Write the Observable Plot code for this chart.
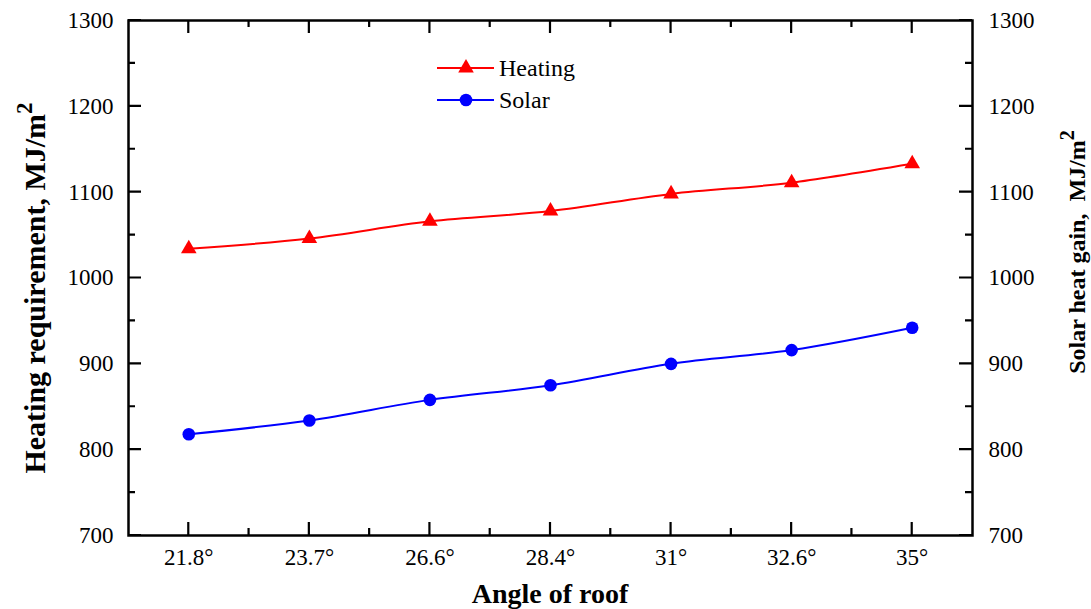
<!DOCTYPE html>
<html><head><meta charset="utf-8">
<script src="https://cdn.jsdelivr.net/npm/d3@7"></script>
<script src="https://cdn.jsdelivr.net/npm/@observablehq/plot@0.6"></script>
<style>
body{margin:0;background:#fff}
#chart svg{font-family:"Liberation Serif","Times New Roman",serif}
</style>
</head><body><div id="chart"></div>
<script>
const categories = ["21.8°","23.7°","26.6°","28.4°","31°","32.6°","35°"];
const heating = [1034,1046,1066,1078,1098,1111,1133];
const solar = [818,834,858,875,900,916,942];
const yTicks = [700,800,900,1000,1100,1200,1300];
const yMinorTicks = [750,850,950,1050,1150,1250];
const seriesNames = ["Heating","Solar"];
const seriesColors = ["#ff0000","#0000ff"];

const heatRows = categories.map((c,i)=>({i, cat:c, value:heating[i]}));
const solarRows = categories.map((c,i)=>({i, cat:c, value:solar[i]}));
const xMajor = categories.map((c,i)=>i);
const xMinor = categories.slice(1).map((c,i)=>i+0.5);

const FONT = '"Liberation Serif","Times New Roman",serif';
const W = 1091, H = 609, ML = 128, MR = 119, MT = 20, MB = 74;
const MAJ = 13, MIN = 7;

const plot = Plot.plot({
  width:W, height:H,
  marginLeft:ML, marginRight:MR, marginTop:MT, marginBottom:MB,
  style:{fontFamily:FONT, fontSize:"23px", color:"#000", background:"#fff", overflow:"visible"},
  x:{type:"linear", domain:[-0.5, categories.length-0.5], label:null},
  y:{domain:[700,1300], label:null},
  marks:[
    Plot.axisX({ticks:xMajor, tickSize:0, tickPadding:13, tickFormat:i=>categories[i], label:null, fontSize:23}),
    Plot.axisY({ticks:yTicks, tickSize:0, tickPadding:15, tickFormat:d=>String(d), label:null, fontSize:23}),
    Plot.axisY({anchor:"right", ticks:yTicks, tickSize:0, tickPadding:16, tickFormat:d=>String(d), label:null, fontSize:23}),
    Plot.frame({stroke:"#000", strokeWidth:2.5}),
    Plot.line(heatRows, {x:"i", y:"value", stroke:seriesColors[0], strokeWidth:2, curve:"catmull-rom"}),
    Plot.line(solarRows, {x:"i", y:"value", stroke:seriesColors[1], strokeWidth:2, curve:"catmull-rom"}),
    Plot.dot(heatRows, {x:"i", y:"value", symbol:"triangle", fill:seriesColors[0], r:5.8}),
    Plot.dot(solarRows, {x:"i", y:"value", symbol:"circle", fill:seriesColors[1], r:6.3})
  ]
});
document.getElementById("chart").appendChild(plot);

const svg = d3.select(plot);
const xs = plot.scale("x"), ys = plot.scale("y");
const frameL = xs.apply(-0.5), frameR = xs.apply(categories.length-0.5);
const frameB = ys.apply(700), frameT = ys.apply(1300);

// inward ticks on all four sides, positioned through Plot's scales
let tickPath = "";
function xTk(vals, len){
  vals.forEach(v=>{
    const x = xs.apply(v);
    tickPath += `M${x},${frameB}V${frameB-len}M${x},${frameT}V${frameT+len}`;
  });
}
function yTk(vals, len){
  vals.forEach(v=>{
    const y = ys.apply(v);
    tickPath += `M${frameL},${y}H${frameL+len}M${frameR},${y}H${frameR-len}`;
  });
}
xTk(xMajor, MAJ); xTk(xMinor, MIN);
yTk(yTicks, MAJ); yTk(yMinorTicks, MIN);
svg.append("path").attr("d",tickPath).attr("fill","none")
  .attr("stroke","#000").attr("stroke-width",2.2).style("stroke","#000");

// axis titles
svg.append("text").attr("x",(frameL+frameR)/2).attr("y",603).attr("text-anchor","middle")
  .attr("font-family",FONT).attr("font-weight","bold").attr("font-size",28).attr("fill","#000")
  .text("Angle of roof");

function rotTitle(x, y, main, size, supSize, shift){
  const t = svg.append("text").attr("transform",`translate(${x},${y}) rotate(-90)`)
    .attr("text-anchor","middle").attr("font-family",FONT).attr("font-weight","bold")
    .attr("font-size",size).attr("fill","#000");
  t.append("tspan").text(main);
  t.append("tspan").attr("font-size",supSize).attr("dy",-shift).text("2");
}
rotTitle(45, 288, "Heating requirement, MJ/m", 30, 23, 13);
rotTitle(1085, 252, "Solar heat gain,\u00a0 MJ/m", 24, 20, 11);

// legend
const lg = svg.append("g");
const legendRows = [{y:68, sym:d3.symbolTriangle, size:5.8*5.8*Math.PI},{y:100, sym:d3.symbolCircle, size:6.3*6.3*Math.PI}];
legendRows.forEach((r,k)=>{
  lg.append("line").attr("x1",437).attr("x2",494).attr("y1",r.y).attr("y2",r.y)
    .attr("stroke",seriesColors[k]).attr("stroke-width",2);
  lg.append("path").attr("d",d3.symbol(r.sym, r.size)()).attr("transform",`translate(466,${r.y})`)
    .attr("fill",seriesColors[k]);
  lg.append("text").attr("x",499).attr("y",r.y+8).attr("text-anchor","start")
    .attr("font-family",FONT).attr("font-size",24).attr("fill","#000").text(seriesNames[k]);
});
</script>
</body></html>
